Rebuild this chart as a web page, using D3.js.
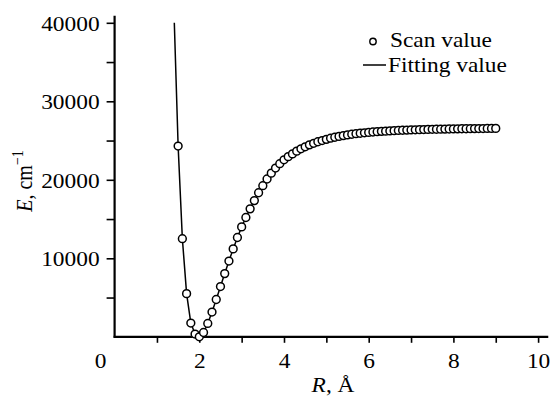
<!DOCTYPE html>
<html>
<head>
<meta charset="utf-8">
<script src="https://cdn.jsdelivr.net/npm/d3@7/dist/d3.min.js"></script>
<style>
  body { margin: 0; background: #fff; }
  svg, svg text { font-family: "Times New Roman", "Liberation Serif", Times, serif !important; fill: #000; }
</style>
</head>
<body>
<svg id="chart" width="553" height="398"></svg>
<script>
// scan points, R in Angstrom, E in cm^-1
const scanR = [1.5, 1.6, 1.7, 1.8, 1.9, 2.0, 2.1, 2.2, 2.3, 2.4, 2.5, 2.6, 2.7, 2.8, 2.9,
  3.0, 3.1, 3.2, 3.3, 3.4, 3.5, 3.6, 3.7, 3.8, 3.9, 4.0, 4.1, 4.2, 4.3, 4.4, 4.5, 4.6, 4.7,
  4.8, 4.9, 5.0, 5.1, 5.2, 5.3, 5.4, 5.5, 5.6, 5.7, 5.8, 5.9, 6.0, 6.1, 6.2, 6.3, 6.4, 6.5,
  6.6, 6.7, 6.8, 6.9, 7.0, 7.1, 7.2, 7.3, 7.4, 7.5, 7.6, 7.7, 7.8, 7.9, 8.0, 8.1, 8.2, 8.3,
  8.4, 8.5, 8.6, 8.7, 8.8, 8.9, 9.0];
const scanE = [24300, 12500, 5500, 1750, 350, 0, 550, 1700, 3150, 4750, 6400, 8050, 9650, 11200, 12650,
  14000, 15200, 16300, 17350, 18350, 19250, 20100, 20850, 21500, 22050, 22550, 22950, 23300, 23650, 23950, 24200, 24450, 24650,
  24850, 25000, 25150, 25300, 25420, 25530, 25630, 25720, 25800, 25870, 25930, 25990, 26040, 26090, 26130, 26170, 26200, 26230,
  26260, 26290, 26310, 26330, 26350, 26370, 26390, 26400, 26420, 26430, 26440, 26450, 26460, 26470, 26480, 26490, 26500, 26505,
  26510, 26520, 26525, 26530, 26540, 26545, 26550];
// fitted curve continues above the plotted range on the repulsive side
const fitHeadR = [1.41];
const fitHeadE = [40000];

const xMajor = [0, 2, 4, 6, 8, 10];
const xMinor = [1, 3, 5, 7, 9];
const yMajor = [10000, 20000, 30000, 40000];
const yMinor = [5000, 15000, 25000, 35000];
const legendLabels = ["Scan value", "Fitting value"];

const svg = d3.select("#chart");
const x0 = 114.6, y0 = 336.8;
const serif = '"Times New Roman", "Liberation Serif", Times, serif';

const x = d3.scaleLinear().domain([0, 10.24]).range([x0, x0 + 42.35 * 10.24]);
const y = d3.scaleLinear().domain([0, 40900]).range([y0, y0 - 0.00785 * 40900]);

const stretch = s => s.attr("font-family", serif)
  .style("transform", "scaleX(1.17)").style("transform-box", "fill-box");

// x axis
const gx = svg.append("g").attr("transform", `translate(0,${y0})`)
  .call(d3.axisBottom(x).tickValues(xMajor).tickSize(6).tickPadding(11.5).tickSizeOuter(0).tickFormat(d3.format("d")));
gx.append("g").call(d3.axisBottom(x).tickValues(xMinor).tickSize(6).tickFormat(""));
gx.attr("font-family", serif);
gx.selectAll(".domain").remove();
gx.selectAll("line").attr("stroke", "#000").attr("stroke-width", 1.6);
gx.selectAll(".tick").filter(d => d === 0).select("line").remove();
gx.selectAll("text").attr("font-size", 20)
  .attr("dx", d => d === 0 ? -14.6 : 0)
  .call(stretch).style("transform-origin", "center");

// y axis
const gy = svg.append("g").attr("transform", `translate(${x0},0)`)
  .call(d3.axisLeft(y).tickValues(yMajor).tickSize(8).tickPadding(7).tickSizeOuter(0).tickFormat(d3.format("d")));
gy.append("g").call(d3.axisLeft(y).tickValues(yMinor).tickSize(8).tickFormat(""));
gy.attr("font-family", serif);
gy.selectAll(".domain").remove();
gy.selectAll("line").attr("stroke", "#000").attr("stroke-width", 1.6);
gy.selectAll("text").attr("font-size", 20)
  .attr("dy", "0.38em")
  .call(stretch).style("transform-origin", "right center");

// axis lines
svg.append("line").attr("x1", x0).attr("x2", x0).attr("y1", y.range()[1]).attr("y2", y0 + 1)
  .attr("stroke", "#000").attr("stroke-width", 2.2);
svg.append("line").attr("x1", x0 - 1).attr("x2", x.range()[1]).attr("y1", y0).attr("y2", y0)
  .attr("stroke", "#000").attr("stroke-width", 2.2);

// fitted line
const fitPts = fitHeadR.map((r, i) => [r, fitHeadE[i]])
  .concat(scanR.map((r, i) => [r, scanE[i]]));
svg.append("path").datum(fitPts)
  .attr("fill", "none").attr("stroke", "#000").attr("stroke-width", 1.5)
  .attr("d", d3.line().x(d => x(d[0])).y(d => y(d[1])));

// scan points
svg.append("g").selectAll("circle").data(scanR).join("circle")
  .attr("cx", d => x(d)).attr("cy", (d, i) => y(scanE[i])).attr("r", 3.9)
  .attr("fill", "#fff").attr("stroke", "#000").attr("stroke-width", 1.5);

// axis titles
const xt = svg.append("text").attr("x", 333).attr("y", 392).attr("text-anchor", "middle").attr("font-size", 20)
  .call(stretch).style("transform-origin", "center");
xt.append("tspan").attr("font-style", "italic").text("R");
xt.append("tspan").text(", Å");

const yt = svg.append("g").attr("transform", "translate(32,181) scale(1.17,1) rotate(-90)")
  .append("text").attr("text-anchor", "middle").attr("font-size", 20).attr("font-family", serif);
yt.append("tspan").attr("font-style", "italic").text("E");
yt.append("tspan").text(", cm");
yt.append("tspan").attr("dy", -8).attr("font-size", 14).text("−1");

// legend
const leg = svg.append("g");
leg.append("circle").attr("cx", 373).attr("cy", 41.5).attr("r", 3.2)
  .attr("fill", "#fff").attr("stroke", "#000").attr("stroke-width", 1.4);
leg.append("line").attr("x1", 363).attr("x2", 386).attr("y1", 65).attr("y2", 65)
  .attr("stroke", "#000").attr("stroke-width", 1.5);
leg.selectAll("text").data(legendLabels).join("text")
  .attr("x", (d, i) => i === 0 ? 390 : 388)
  .attr("y", (d, i) => i === 0 ? 47 : 72)
  .attr("font-size", 20)
  .text(d => d)
  .call(stretch).style("transform-origin", "left center");
</script>
</body>
</html>
